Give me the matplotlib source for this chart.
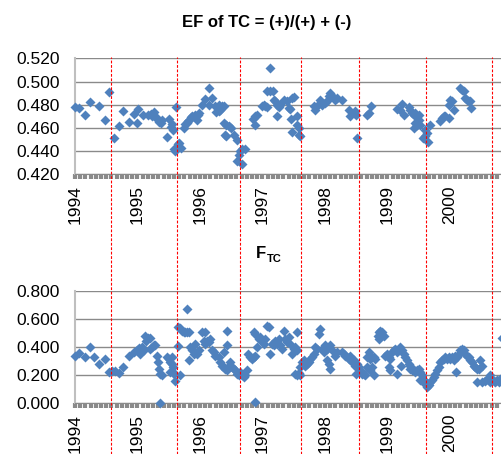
import numpy as np
import matplotlib
matplotlib.use("Agg")
import matplotlib.pyplot as plt
import matplotlib.transforms as mtransforms
from matplotlib.lines import Line2D

plt.rcParams['font.family'] = ['Liberation Sans', 'DejaVu Sans']

# Axis categories
years = [1994, 1995, 1996, 1997, 1998, 1999, 2000]
year_labels = [str(y) for y in years]
ef_ticks = [0.420, 0.440, 0.460, 0.480, 0.500, 0.520]
ftc_ticks = [0.0, 0.2, 0.4, 0.6, 0.8]

# Red dashed markers (decimal year)
season_breaks = [1994.581, 1995.627, 1996.640, 1997.616, 1998.549, 1999.621, 2000.672]

# EF of TC (decimal year, value)
ef_t = [1994.005, 1994.07, 1994.155, 1994.245, 1994.39, 1994.475, 1994.54, 1994.625, 1994.71, 1994.77,
        1994.86, 1994.94, 1995.00, 1995.01, 1995.09, 1995.17, 1995.21, 1995.24, 1995.26, 1995.29,
        1995.32, 1995.35, 1995.37, 1995.39, 1995.47, 1995.50, 1995.53, 1995.55, 1995.57, 1995.585,
        1995.60, 1995.62, 1995.645, 1995.665, 1995.70, 1995.74, 1995.765, 1995.79, 1995.81, 1995.83,
        1995.86, 1995.88, 1995.915, 1995.945, 1995.97, 1995.99, 1996.03, 1996.085, 1996.14, 1996.19,
        1996.15, 1996.245, 1996.288, 1996.325, 1996.352, 1996.379, 1996.309, 1996.256, 1996.299, 1996.379,
        1996.416, 1996.459, 1996.501, 1996.395, 1996.416, 1996.539, 1996.592, 1996.619, 1996.645, 1996.672,
        1996.715, 1996.592, 1996.672, 1996.843, 1996.885, 1996.912, 1996.875, 1996.992, 1997.019, 1997.045,
        1997.072, 1997.125, 1997.072, 1997.125, 1997.163, 1997.179, 1997.205, 1997.232, 1997.259, 1997.285,
        1997.232, 1997.339, 1997.392, 1997.419, 1997.445, 1997.472, 1997.499, 1997.461, 1997.552, 1997.472,
        1997.552, 1997.579, 1997.605, 1997.589, 1997.819, 1997.845, 1997.888, 1997.925, 1997.952, 1998.005,
        1998.032, 1998.059, 1998.085, 1998.112, 1998.139, 1998.165, 1998.192, 1998.272, 1998.379, 1998.405,
        1998.459, 1998.496, 1998.485, 1998.517, 1998.672, 1998.699, 1998.741, 1999.152, 1999.205, 1999.232,
        1999.269, 1999.339, 1999.365, 1999.392, 1999.419, 1999.445, 1999.472, 1999.499, 1999.509, 1999.445,
        1999.419, 1999.472, 1999.525, 1999.563, 1999.595, 1999.632, 1999.648, 1999.605, 1999.685, 1999.845,
        1999.872, 1999.899, 1999.925, 1999.979, 1999.979, 2000.005, 2000.032, 2000.059, 2000.165, 2000.192,
        2000.219, 2000.245, 2000.272, 2000.299, 2000.325, 2000.341]
ef_v = [0.478, 0.477, 0.471, 0.482, 0.4785, 0.467, 0.491, 0.451, 0.462, 0.475,
        0.465, 0.472, 0.464, 0.476, 0.471, 0.471, 0.472, 0.470, 0.474, 0.469,
        0.468, 0.465, 0.464, 0.467, 0.452, 0.468, 0.461, 0.463, 0.4585, 0.442,
        0.440, 0.478, 0.446, 0.447, 0.443, 0.460, 0.463, 0.464, 0.466, 0.467,
        0.469, 0.470, 0.471, 0.467, 0.471, 0.4725, 0.480, 0.485, 0.494, 0.4855,
        0.480, 0.4785, 0.477, 0.4757, 0.4785, 0.4785, 0.480, 0.474, 0.4748, 0.4642,
        0.4628, 0.4614, 0.460, 0.4542, 0.4528, 0.4542, 0.450, 0.437, 0.440, 0.4414,
        0.4414, 0.4313, 0.429, 0.4677, 0.470, 0.4708, 0.4628, 0.4785, 0.480, 0.4785,
        0.4777, 0.5114, 0.492, 0.492, 0.492, 0.4843, 0.4828, 0.480, 0.4777, 0.480,
        0.470, 0.4843, 0.4828, 0.4771, 0.4762, 0.4857, 0.4863, 0.468, 0.470, 0.4565,
        0.4628, 0.460, 0.4528, 0.4542, 0.4785, 0.4757, 0.480, 0.4843, 0.480, 0.4814,
        0.4828, 0.4871, 0.490, 0.4871, 0.4857, 0.4843, 0.4857, 0.4843, 0.4751, 0.470,
        0.4728, 0.4714, 0.4743, 0.4514, 0.4714, 0.4728, 0.4785, 0.4765, 0.4757, 0.4805,
        0.4714, 0.4777, 0.4757, 0.4728, 0.4714, 0.4728, 0.470, 0.4714, 0.4671, 0.4642,
        0.460, 0.4628, 0.4628, 0.4514, 0.4528, 0.4557, 0.448, 0.4585, 0.4628, 0.4657,
        0.4685, 0.470, 0.470, 0.4685, 0.480, 0.4843, 0.4828, 0.4757, 0.4943, 0.4928,
        0.4914, 0.4857, 0.4843, 0.4828, 0.4828, 0.4771]

# F_TC (decimal year, value)
ftc_t = [1994.005, 1994.059, 1994.155, 1994.245, 1994.304, 1994.389, 1994.475, 1994.539, 1994.592, 1994.635,
         1994.709, 1994.768, 1994.859, 1994.939, 1994.992, 1995.019, 1995.035, 1995.072, 1995.099, 1995.136,
         1995.168, 1995.205, 1995.125, 1995.205, 1995.232, 1995.259, 1995.275, 1995.312, 1995.328, 1995.349,
         1995.365, 1995.392, 1995.355, 1995.472, 1995.499, 1995.525, 1995.552, 1995.552, 1995.568, 1995.525,
         1995.552, 1995.579, 1995.605, 1995.648, 1995.648, 1995.685, 1995.712, 1995.739, 1995.765, 1995.792,
         1995.819, 1995.685, 1995.792, 1995.829, 1995.845, 1995.872, 1995.899, 1995.925, 1995.952, 1995.979,
         1995.925, 1996.032, 1996.075, 1996.059, 1996.085, 1996.112, 1996.139, 1996.165, 1996.192, 1996.219,
         1996.245, 1996.299, 1996.325, 1996.352, 1996.379, 1996.405, 1996.432, 1996.459, 1996.485, 1996.512,
         1996.539, 1996.565, 1996.592, 1996.619, 1996.645, 1996.672, 1996.699, 1996.725, 1996.752, 1996.379,
         1996.432, 1996.432, 1996.768, 1996.805, 1996.832, 1996.859, 1996.885, 1996.859, 1996.885, 1996.875,
         1996.912, 1996.939, 1996.965, 1996.992, 1997.019, 1997.045, 1997.072, 1997.099, 1997.125, 1997.152,
         1997.179, 1997.205, 1997.232, 1997.259, 1997.285, 1997.312, 1997.339, 1997.365, 1997.392, 1997.419,
         1997.445, 1997.472, 1997.499, 1997.552, 1997.525, 1997.552, 1997.515, 1997.552, 1997.589, 1997.605,
         1997.605, 1997.632, 1997.659, 1997.685, 1997.712, 1997.739, 1997.765, 1997.792, 1997.819, 1997.845,
         1997.872, 1997.899, 1997.925, 1997.952, 1997.979, 1998.005, 1998.032, 1998.059, 1998.085, 1998.112,
         1998.032, 1998.059, 1998.085, 1998.165, 1998.192, 1998.272, 1998.299, 1998.325, 1998.352, 1998.379,
         1998.405, 1998.432, 1998.459, 1998.485, 1998.496, 1998.512, 1998.539, 1998.565, 1998.592, 1998.619,
         1998.645, 1998.672, 1998.699, 1998.725, 1998.752, 1998.779, 1998.805, 1998.672, 1998.699, 1998.725,
         1998.752, 1998.779, 1998.848, 1998.869, 1998.885, 1998.912, 1998.939, 1998.859, 1998.965, 1998.992,
         1999.019, 1999.045, 1999.072, 1999.099, 1999.125, 1999.152, 1999.179, 1999.205, 1999.232, 1999.259,
         1999.285, 1999.312, 1999.339, 1999.365, 1999.392, 1999.419, 1999.445, 1999.472, 1999.499, 1999.525,
         1999.552, 1999.579, 1999.605, 1999.632, 1999.659, 1999.685, 1999.712, 1999.739, 1999.765, 1999.792,
         1999.819, 1999.845, 1999.872, 1999.899, 1999.925, 1999.952, 1999.979, 2000.005, 2000.032, 2000.059,
         2000.085, 2000.112, 2000.139, 2000.165, 2000.192, 2000.219, 2000.245, 2000.272, 2000.299, 2000.325,
         2000.352, 2000.379, 2000.405, 2000.432, 2000.459, 2000.485, 2000.512, 1999.019, 1999.045, 1999.152,
         1999.221, 1999.365, 1999.525, 2000.096, 2000.432, 2000.512, 2000.565, 2000.592, 2000.619, 2000.645,
         2000.672, 2000.699, 2000.725, 2000.752, 2000.779, 2000.805, 2000.645, 2000.825]
ftc_v = [0.338, 0.355, 0.327, 0.402, 0.331, 0.279, 0.310, 0.220, 0.225, 0.230,
         0.213, 0.260, 0.338, 0.362, 0.379, 0.391, 0.350, 0.398, 0.374, 0.445,
         0.462, 0.464, 0.476, 0.386, 0.398, 0.410, 0.414, 0.334, 0.291, 0.244,
         0.208, 0.196, 0.002, 0.331, 0.310, 0.291, 0.279, 0.327, 0.256, 0.220,
         0.225, 0.208, 0.154, 0.405, 0.540, 0.535, 0.516, 0.504, 0.504, 0.504,
         0.504, 0.196, 0.670, 0.303, 0.398, 0.374, 0.350, 0.362, 0.350, 0.374,
         0.421, 0.509, 0.509, 0.445, 0.421, 0.445, 0.433, 0.457, 0.374, 0.362,
         0.338, 0.327, 0.291, 0.267, 0.256, 0.244, 0.232, 0.267, 0.291, 0.256,
         0.244, 0.232, 0.208, 0.201, 0.220, 0.196, 0.185, 0.196, 0.232, 0.362,
         0.516, 0.410, 0.350, 0.327, 0.310, 0.327, 0.338, 0.504, 0.492, 0.007,
         0.398, 0.457, 0.469, 0.445, 0.421, 0.457, 0.551, 0.540, 0.350, 0.421,
         0.410, 0.445, 0.421, 0.457, 0.410, 0.386, 0.516, 0.457, 0.433, 0.469,
         0.421, 0.350, 0.386, 0.504, 0.398, 0.374, 0.208, 0.201, 0.215, 0.196,
         0.256, 0.291, 0.303, 0.267, 0.279, 0.291, 0.315, 0.327, 0.350, 0.398,
         0.386, 0.492, 0.528, 0.386, 0.362, 0.410, 0.386, 0.398, 0.410, 0.374,
         0.303, 0.279, 0.244, 0.338, 0.362, 0.362, 0.350, 0.338, 0.327, 0.315,
         0.338, 0.291, 0.303, 0.267, 0.208, 0.279, 0.256, 0.232, 0.208, 0.208,
         0.196, 0.327, 0.362, 0.315, 0.327, 0.327, 0.315, 0.256, 0.244, 0.232,
         0.256, 0.196, 0.480, 0.504, 0.516, 0.504, 0.480, 0.457, 0.338, 0.350,
         0.327, 0.315, 0.362, 0.374, 0.386, 0.362, 0.374, 0.398, 0.374, 0.350,
         0.327, 0.303, 0.279, 0.267, 0.232, 0.232, 0.220, 0.232, 0.244, 0.220,
         0.196, 0.161, 0.137, 0.114, 0.125, 0.149, 0.161, 0.185, 0.208, 0.232,
         0.256, 0.291, 0.303, 0.315, 0.327, 0.315, 0.327, 0.315, 0.327, 0.303,
         0.338, 0.327, 0.350, 0.374, 0.386, 0.374, 0.350, 0.338, 0.327, 0.303,
         0.291, 0.267, 0.256, 0.244, 0.244, 0.303, 0.267, 0.256, 0.232, 0.208,
         0.267, 0.244, 0.161, 0.220, 0.149, 0.149, 0.154, 0.173, 0.161, 0.149,
         0.161, 0.154, 0.149, 0.161, 0.149, 0.173, 0.196, 0.464]

W, H = 502, 454
fig = plt.figure(figsize=(W / 100, H / 100), dpi=100)
ax1 = fig.add_axes([75 / W, 1 - 174.3 / H, (W - 75) / W, 116 / H])
ax2 = fig.add_axes([75 / W, 1 - 403 / H, (W - 75) / W, 112.3 / H])

x_end = 1994 + (W - 75) / 62.5
grey = '#8a8a8a'


def style(ax, yticks):
    ax.set_xlim(1994, x_end)
    ax.set_ylim(yticks[0], yticks[-1])
    ax.set_yticks(yticks)
    ax.set_yticklabels([f"{v:.3f}" for v in yticks])
    ax.set_xticks(years)
    ax.set_xticklabels(year_labels, rotation=90)
    ax.set_xticks(np.arange(1994, x_end, 1 / 12), minor=True)
    ax.grid(axis='y', color=grey, lw=1)
    ax.set_axisbelow(True)
    ax.spines['top'].set_visible(False)
    ax.spines['right'].set_visible(False)
    ax.spines['left'].set_color('#bfbfbf')
    ax.spines['left'].set_linewidth(1.5)
    ax.spines['bottom'].set_color(grey)
    ax.tick_params(axis='y', length=0, pad=11, labelsize=12.5)
    ax.tick_params(axis='x', which='both', length=3.8, width=3, color=grey,
                   direction='out', pad=4, labelsize=12.5)


style(ax1, ef_ticks)
style(ax2, ftc_ticks)

ax1.plot(ef_t, ef_v, 'D', color='#4f81bd', ms=5, mec='none', clip_on=False, zorder=3)
ax2.plot(ftc_t, ftc_v, 'D', color='#4f81bd', ms=5, mec='none', clip_on=False, zorder=3)

# red dashed lines across both panels
trans = mtransforms.blended_transform_factory(ax1.transData, fig.transFigure)
for x in season_breaks:
    fig.add_artist(Line2D([x, x], [0, 1 - 57 / H], transform=trans, color='red',
                          lw=0.8, ls=(0, (2.5, 1.5)), zorder=5))

fig.text(267 / W, 1 - 22 / H, 'EF of TC = (+)/(+) + (-)', ha='center', va='center',
         fontweight='bold', fontsize=12)
fig.text(256 / W, 1 - 254 / H, 'F', ha='left', va='center', fontweight='bold', fontsize=12)
fig.text(266.5 / W, 1 - 259 / H, 'TC', ha='left', va='center', fontweight='bold', fontsize=8)

fig.savefig('out.png', dpi=100)
